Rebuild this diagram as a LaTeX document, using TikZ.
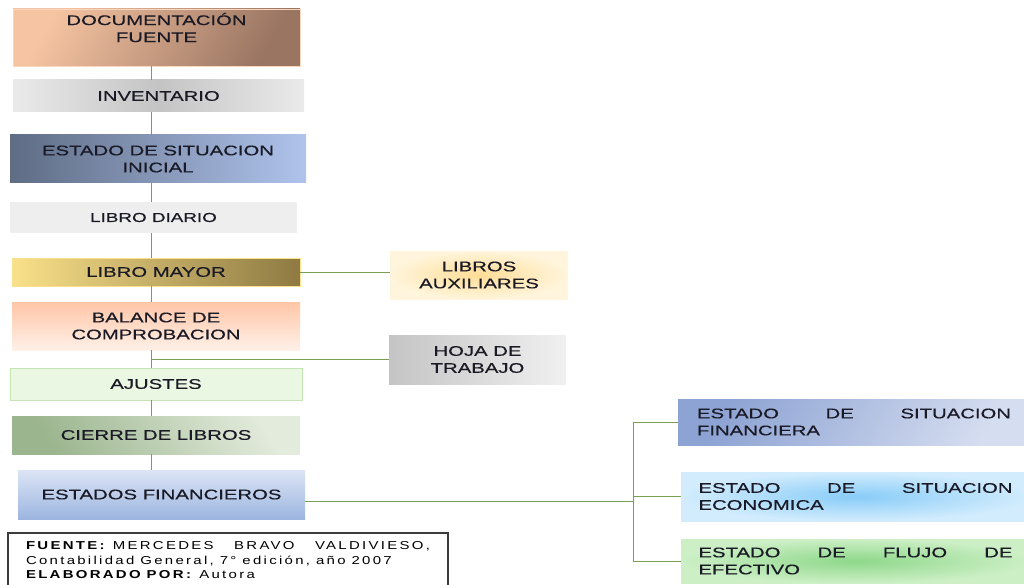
\documentclass[tikz,border=0pt]{standalone}
\usepackage{fontspec}
\setmainfont[FakeStretch=1.45,FakeBold=0.4]{Liberation Sans}
\newfontfamily\fuentefont[FakeStretch=1.3,LetterSpace=20]{Liberation Sans}
\usetikzlibrary{positioning, calc}
\definecolor{lineaVerde}{HTML}{77A052}
\definecolor{textoOscuro}{HTML}{1A1A26}
\definecolor{marcoGris}{HTML}{3C3C3C}
\definecolor{docClaro}{HTML}{F6C4A2}
\definecolor{docOscuro}{HTML}{9A7562}
\definecolor{grisClaro}{HTML}{EAEAEA}
\definecolor{grisMedio}{HTML}{C4C4C4}
\definecolor{pizarra}{HTML}{5E6C84}
\definecolor{celeste}{HTML}{AFC3EC}
\definecolor{mayorClaro}{HTML}{F9E08A}
\definecolor{mayorOscuro}{HTML}{8E7A42}
\definecolor{auxClaro}{HTML}{FFF5DC}
\definecolor{auxMedio}{HTML}{FFDD95}
\definecolor{balArriba}{HTML}{FFC6A6}
\definecolor{balAbajo}{HTML}{FFF0E8}
\definecolor{ajusteFondo}{HTML}{EAF7E2}
\definecolor{ajusteBorde}{HTML}{C5E4B4}
\definecolor{cierreOscuro}{HTML}{9BB58E}
\definecolor{cierreClaro}{HTML}{E3EBDC}
\definecolor{efArriba}{HTML}{DCE5F5}
\definecolor{efAbajo}{HTML}{9CB5E0}
\definecolor{finOscuro}{HTML}{8DA3D3}
\definecolor{finClaro}{HTML}{D5DDF0}
\definecolor{ecoCentro}{HTML}{88CCF8}
\definecolor{ecoBorde}{HTML}{D2ECFD}
\definecolor{flujoCentro}{HTML}{8ED88A}
\definecolor{flujoBorde}{HTML}{CCEFC5}

\tikzset{
  paso/.style={inner sep=0pt, align=center, text=textoOscuro, font=\fontsize{14}{17}\selectfont},
  estado/.style={paso, align=left, text width=314pt},
  enlace/.style={draw=lineaVerde, line width=1pt},
}

\begin{document}
\begin{tikzpicture}[x=1pt, y=-1pt]
    \useasboundingbox (0,0) rectangle (1024,585);
    % columna principal
    \node[paso, left color=docClaro, right color=docOscuro, shading angle=60, draw=docClaro!70!white, minimum width=287pt, minimum height=57pt] (doc) at (156.5,37.5) {DOCUMENTACIÓN\\FUENTE\\[3pt]};
    \node[paso, left color=grisClaro, right color=grisClaro, middle color=grisMedio, minimum width=291pt, minimum height=32pt] (inv) at (158.5,96) {INVENTARIO};
    \node[paso, left color=pizarra, right color=celeste, minimum width=296pt, minimum height=48pt] (esi) at (158,159) {ESTADO DE SITUACION\\INICIAL};
    \node[paso, fill=grisClaro!80!white, minimum width=287pt, minimum height=31pt] (diario) at (153.5,217.5) {\fontsize{13}{15}\selectfont LIBRO DIARIO};
    \node[paso, left color=mayorClaro, right color=mayorOscuro, draw=mayorClaro, minimum width=288pt, minimum height=28pt] (mayor) at (156,272) {LIBRO MAYOR};
    \node[paso, top color=balArriba, bottom color=balAbajo, minimum width=288pt, minimum height=48pt] (balance) at (156,326) {BALANCE DE\\COMPROBACION};
    \node[paso, fill=ajusteFondo, draw=ajusteBorde, minimum width=292pt, minimum height=32pt] (ajustes) at (156,384) {AJUSTES};
    \node[paso, left color=cierreOscuro, right color=cierreClaro, shading angle=120, minimum width=288pt, minimum height=38pt] (cierre) at (156,435) {CIERRE DE LIBROS};
    \node[paso, top color=efArriba, bottom color=efAbajo, minimum width=287pt, minimum height=49pt] (ef) at (161.5,494.5) {ESTADOS FINANCIEROS};
    % cuadros laterales
    \node[paso, inner color=auxMedio, outer color=auxClaro, minimum width=178pt, minimum height=48pt] (aux) at (479,275) {LIBROS\\AUXILIARES};
    \node[paso, left color=grisMedio, right color=grisClaro!70!white, minimum width=177pt, minimum height=49pt] (hoja) at (477.5,359.5) {HOJA DE\\TRABAJO};
    % estados financieros
    \node[estado, left color=finOscuro, right color=finClaro, shading angle=60, minimum width=352pt, minimum height=46pt] (sfin) at (854,422) {\makebox[314pt][s]{ESTADO\hfill DE\hfill SITUACION}\\FINANCIERA};
    \node[estado, inner color=ecoCentro, outer color=ecoBorde, minimum width=349pt, minimum height=49pt] (seco) at (855.5,496.5) {\makebox[314pt][s]{ESTADO\hfill DE\hfill SITUACION}\\ECONOMICA};
    \node[estado, inner color=flujoCentro, outer color=flujoBorde, minimum width=349pt, minimum height=44pt] (flujo) at (855.5,561) {\makebox[314pt][s]{ESTADO\hfill DE\hfill FLUJO\hfill DE}\\EFECTIVO};
    % fuente
    \node[draw=marcoGris, line width=1.2pt, fill=white, inner sep=0pt, minimum width=440pt, minimum height=57pt] (fuente) at (228,561.5)
      {\parbox{404pt}{\fuentefont\fontsize{11.5}{14.5}\selectfont\raggedright
       \makebox[404pt][s]{\textbf{FUENTE:}\hspace{6pt}MERCEDES\hfill BRAVO\hfill VALDIVIESO,}\\
       Contabilidad\hspace{6pt}General,\hspace{6pt}7°\hspace{6pt}edición,\hspace{6pt}año\hspace{6pt}2007\\
       \textbf{ELABORADO\hspace{6pt}POR:}\hspace{6pt}Autora\\[2pt]}};
    % conectores
    \coordinate (eje) at (151,0);
    \coordinate (bus) at (633,501);
    \draw[enlace] (doc.south -| eje) -- (inv.north -| eje);
    \draw[enlace] (inv.south -| eje) -- (esi.north -| eje);
    \draw[enlace] (esi.south -| eje) -- (diario.north -| eje);
    \draw[enlace] (diario.south -| eje) -- (mayor.north -| eje);
    \draw[enlace] (mayor.south -| eje) -- (balance.north -| eje);
    \draw[enlace] (balance.south -| eje) -- (ajustes.north -| eje);
    \draw[enlace] (ajustes.south -| eje) -- (cierre.north -| eje);
    \draw[enlace] (cierre.south -| eje) -- (ef.north -| eje);
    \draw[enlace] (mayor.east) -- (mayor.east -| aux.west);
    \draw[enlace] (hoja.west) -- (hoja.west -| eje);
    \draw[enlace] (ef.east |- bus) -- (bus);
    \draw[enlace] (bus |- sfin.west) -- (bus |- flujo.west);
    \draw[enlace] (bus |- sfin.west) -- (sfin.west);
    \draw[enlace] (bus |- seco.west) -- (seco.west);
    \draw[enlace] (bus |- flujo.west) -- (flujo.west);
\end{tikzpicture}
\end{document}
